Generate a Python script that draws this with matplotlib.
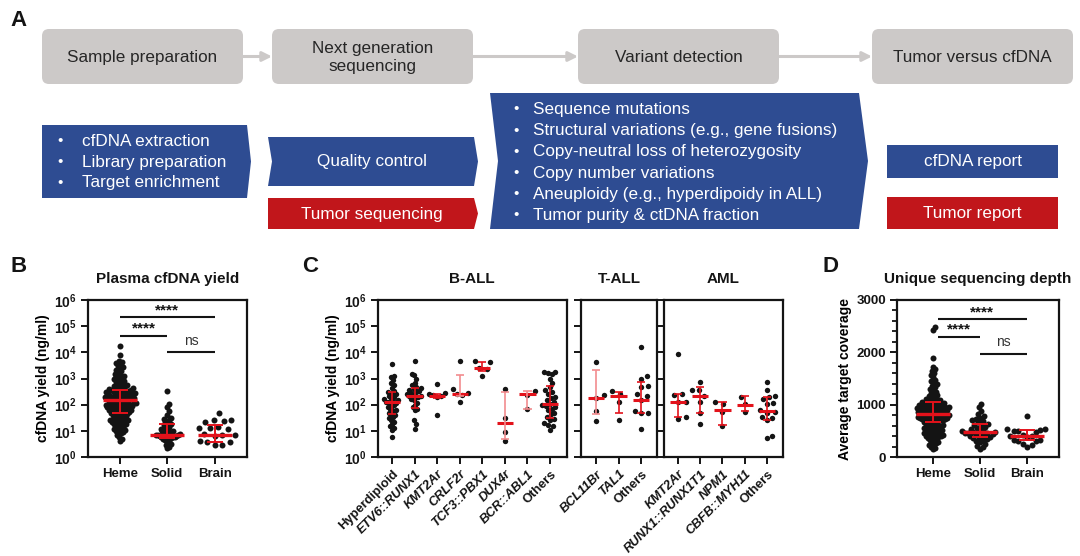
import numpy as np
import matplotlib
matplotlib.use("Agg")
import matplotlib.pyplot as plt
from matplotlib.patches import Polygon, FancyBboxPatch, Rectangle
from matplotlib.ticker import NullLocator, MultipleLocator

plt.rcParams['font.family'] = ['Liberation Sans', 'DejaVu Sans']
plt.rcParams['font.weight'] = 'bold'
plt.rcParams['axes.labelweight'] = 'bold'
plt.rcParams['mathtext.fontset'] = 'custom'
plt.rcParams['mathtext.rm'] = 'Liberation Sans'
plt.rcParams['mathtext.bf'] = 'Liberation Sans:bold'
plt.rcParams['axes.linewidth'] = 1.6

# ---------------- data ----------------
groups_bd = ["Heme", "Solid", "Brain"]

# B: plasma cfDNA yield (ng/ml)
yield_heme = [17000, 8200,
              4800, 4300, 3900, 3600, 3100, 2700, 2400, 2100,
              1900, 1700, 1500, 1400, 1300, 1200, 1100, 1050,
              950, 900, 820, 760, 700, 650, 600, 560, 520, 500,
              480, 460, 440, 420, 400, 380, 360, 350, 340, 330, 320, 310, 300,
              290, 285, 280, 270, 260, 250, 245, 240, 230, 225, 220, 210, 205, 200,
              195, 190, 185, 180, 175, 170, 165, 160, 155, 150, 145, 140, 138, 135,
              130, 125, 120, 118, 115, 110, 105, 102, 100,
              98, 95, 92, 90, 88, 85, 82, 80, 78, 75, 72, 70, 68, 65, 62, 60, 58,
              56, 54, 52, 50,
              48, 46, 44, 42, 40, 38, 36, 34, 32, 30, 28, 27, 26, 25, 24, 23, 22, 21, 20,
              19, 18, 17, 16, 15, 14, 13, 12, 11, 10,
              9.5, 9, 8, 7, 6, 5, 4]
yield_solid = [340, 105, 85, 55, 40, 30, 28, 25, 22, 20, 18, 16, 14, 13, 12, 11, 10,
               9.5, 9, 8.5, 8, 7.8, 7.5, 7.2, 7, 6.8, 6.6, 6.4, 6.2, 6, 5.8, 5.6, 5.4,
               5, 4.6, 4.2, 3.8, 3.2, 2.8, 2.5, 2.2]
yield_brain = [48, 27, 25, 24, 22, 14, 13, 12.5, 12, 7.5, 7, 6.8, 6.5, 4, 3.8, 3.6, 3, 2.9]
yield_median = [145, 7.1, 7.0]
yield_low = [48, 5.2, 3.7]
yield_high = [350, 18, 16]

# D: average target coverage
depth_heme = [2480, 2420, 1900,
              1720, 1680, 1640, 1600, 1560, 1520,
              1480, 1450, 1420, 1390, 1360, 1330, 1300, 1280, 1250, 1220, 1200,
              1180, 1160, 1140, 1120, 1100, 1090, 1080, 1070, 1060, 1050, 1040, 1030,
              1025, 1020, 1010, 1000,
              995, 990, 980, 975, 970, 960, 955, 950, 940, 935, 930, 920, 915, 910,
              900, 895, 890, 880, 875, 870, 860, 855, 850, 840, 835, 830, 820, 815,
              810, 805, 800,
              790, 785, 780, 770, 765, 760, 750, 745, 740, 735, 730, 725, 720, 715,
              710, 700, 690, 680, 670, 660, 650, 640, 630, 620, 610, 600,
              590, 580, 570, 560, 550, 540, 530, 520, 510, 500, 490, 480, 470, 460,
              450, 440, 430, 420, 410, 400,
              390, 380, 360, 350, 340, 320, 300, 280, 260, 240, 220, 200, 170, 150]
depth_solid = [1020, 960, 870, 820, 780, 740, 720, 700, 680, 660, 640, 620, 600, 580,
               560, 540, 520, 500, 490, 480, 470, 460, 455, 450, 440, 430, 420, 410,
               400, 390, 380, 360, 340, 320, 300, 280, 250, 210, 190, 160]
depth_brain = [790, 540, 530, 510, 500, 490, 480, 420, 410, 400, 390, 330, 320, 310,
               300, 240, 230, 200]
depth_median = [820, 485, 405]
depth_low = [660, 383, 320]
depth_high = [1055, 628, 510]

# C: cfDNA yield by subtype
ball_labels = ["Hyperdiploid", "ETV6::RUNX1", "KMT2Ar", "CRLF2r", "TCF3::PBX1",
               "DUX4r", "BCR::ABL1", "Others"]
ball_values = [
    [3600, 1300, 1100, 900, 700, 550, 450, 320, 300, 280, 250, 220, 200, 180, 160,
     150, 140, 130, 125, 120, 110, 100, 90, 80, 70, 60, 55, 50, 45, 40, 35, 30, 26,
     22, 18, 15, 13, 11, 5.8],
    [4700, 1500, 1400, 1000, 700, 550, 480, 420, 380, 350, 320, 300, 280, 260, 240,
     220, 210, 200, 190, 170, 150, 120, 100, 80, 70, 60, 25, 18, 12],
    [620, 280, 250, 230, 210, 190, 41],
    [4500, 400, 280, 250, 230, 125],
    [4600, 4200, 2600, 2300, 1300],
    [400, 31, 8.7, 4],
    [320, 240, 68],
    [1800, 1700, 1600, 1500, 1000, 700, 480, 350, 300, 250, 200, 180, 150, 130, 110,
     100, 90, 80, 70, 60, 50, 45, 35, 28, 25, 20, 16, 15, 11],
]
ball_median = [125, 210, 215, 250, 2500, 20, 250, 107]
ball_low = [44, 72, 180, 215, 2000, 4.9, 68, 31]
ball_high = [300, 430, 255, 1420, 4200, 300, 320, 500]

tall_labels = ["BCL11Br", "TAL1", "Others"]
tall_values = [
    [4100, 225, 180, 59, 23],
    [320, 260, 130, 25],
    [16500, 1260, 990, 500, 480, 260, 220, 155, 59, 48, 46, 12],
]
tall_median = [180, 210, 155]
tall_low = [44, 50, 48]
tall_high = [2100, 300, 710]

aml_labels = ["KMT2Ar", "RUNX1::RUNX1T1", "NPM1", "CBFB::MYH11", "Others"]
aml_values = [
    [8500, 260, 230, 130, 125, 35, 28],
    [720, 370, 350, 220, 123, 48, 18],
    [130, 105, 52, 15],
    [195, 105, 52],
    [720, 350, 210, 190, 160, 120, 105, 60, 52, 48, 34, 30, 25, 6.6, 5.4],
]
aml_median = [130, 220, 65, 100, 55]
aml_low = [34, 48, 17, 59, 25]
aml_high = [250, 470, 123, 210, 190]

# ---------------- styling ----------------
RED = '#E3121B'
PINK = '#F28C8F'
BLUE = '#2E4C92'
DRED = '#C1161B'
GRAY = '#CCC9C8'
INK = '#141414'

W, H = 1080, 556
fig = plt.figure(figsize=(W / 100, H / 100), dpi=100)


def px_axes(x0, y0, x1, y1):
    return fig.add_axes([x0 / W, 1 - y1 / H, (x1 - x0) / W, (y1 - y0) / H])


ax0 = fig.add_axes([0, 0, 1, 1])
ax0.set_xlim(0, W)
ax0.set_ylim(H, 0)
ax0.axis('off')

# ---------------- panel A: workflow ----------------
gray_boxes = [(42, "Sample preparation"), (272, "Next generation\nsequencing"),
              (578, "Variant detection"), (872, "Tumor versus cfDNA")]
for x, label in gray_boxes:
    ax0.add_patch(FancyBboxPatch((x, 29), 201, 55, boxstyle="round,pad=0,rounding_size=7",
                                 fc=GRAY, ec='none'))
    ax0.text(x + 100.5, 57.5, label, ha='center', va='center', fontsize=12.3,
             weight='normal', color='#262626', linespacing=1.25)
for x0, x1 in [(243, 272), (473, 578), (779, 872)]:
    ax0.annotate("", xy=(x1, 56.5), xytext=(x0, 56.5),
                 arrowprops=dict(arrowstyle='-|>', color=GRAY, lw=2.2,
                                 mutation_scale=14, shrinkA=0, shrinkB=0))

ax0.add_patch(Polygon([(42, 125), (247, 125), (251, 161.5), (247, 198), (42, 198)],
                      fc=BLUE, ec='none'))
ax0.add_patch(Polygon([(268, 137), (474, 137), (478, 161.5), (474, 186), (268, 186),
                       (272, 161.5)], fc=BLUE, ec='none'))
ax0.add_patch(Polygon([(268, 198), (474, 198), (478, 213.5), (474, 229), (268, 229)],
                      fc=DRED, ec='none'))
ax0.add_patch(Polygon([(490, 93), (859, 93), (868, 161), (859, 229), (490, 229),
                       (498, 161)], fc=BLUE, ec='none'))
ax0.add_patch(Rectangle((887, 145), 171, 33, fc=BLUE, ec='none'))
ax0.add_patch(Rectangle((887, 197), 171, 32, fc=DRED, ec='none'))

step1 = ["cfDNA extraction", "Library preparation", "Target enrichment"]
for k, s in enumerate(step1):
    y = 141 + 21 * k
    ax0.text(60, y, "•", ha='center', va='center', fontsize=11, color='white', weight='normal')
    ax0.text(82, y, s, ha='left', va='center', fontsize=12.3, color='white', weight='normal')

step3 = ["Sequence mutations", "Structural variations (e.g., gene fusions)",
         "Copy-neutral loss of heterozygosity", "Copy number variations",
         "Aneuploidy (e.g., hyperdipoidy in ALL)", "Tumor purity & ctDNA fraction"]
for k, s in enumerate(step3):
    y = 109.5 + 21.2 * k
    ax0.text(516, y, "•", ha='center', va='center', fontsize=11, color='white', weight='normal')
    ax0.text(533, y, s, ha='left', va='center', fontsize=12.3, color='white', weight='normal')

for x, y, s in [(372, 161.5, "Quality control"), (372, 214, "Tumor sequencing"),
                (972.5, 161.5, "cfDNA report"), (972.5, 213.5, "Tumor report")]:
    ax0.text(x, y, s, ha='center', va='center', fontsize=12.3, color='white', weight='normal')

# panel letters and titles
for x, y, s in [(10, 21, "A"), (10, 267, "B"), (302, 267, "C"), (822, 267, "D")]:
    ax0.text(x, y, s, ha='left', va='center', fontsize=16, weight='bold', color=INK)
for x, s in [(167.5, "Plasma cfDNA yield"), (472, "B-ALL"), (619, "T-ALL"),
             (723.5, "AML"), (978, "Unique sequencing depth")]:
    ax0.text(x, 279, s, ha='center', va='center', fontsize=11, weight='bold', color=INK)


# ---------------- helpers ----------------
def swarm_x(ax, xc, vals, spacing, cap):
    pts = ax.transData.transform(np.column_stack([np.full(len(vals), xc), vals]))
    cx = pts[0, 0]
    ys = pts[:, 1]
    xs = np.zeros(len(vals))
    placed = []
    for i in np.argsort(ys):
        y = ys[i]
        near = [(px, py) for px, py in placed if abs(py - y) < spacing]
        cands = [0.0]
        for px, py in near:
            dx = np.sqrt(spacing ** 2 - (py - y) ** 2)
            cands += [px - cx + dx, px - cx - dx]
        cands.sort(key=abs)
        off = cands[-1]
        for c in cands:
            if all((cx + c - px) ** 2 + (y - py) ** 2 >= spacing ** 2 - 1e-6 for px, py in near):
                off = c
                break
        xs[i] = cx + off
        placed.append((cx + off, y))
    offs = xs - cx
    m = np.abs(offs).max()
    if m > cap:
        offs = offs * cap / m
    back = ax.transData.inverted().transform(np.column_stack([cx + offs, ys]))
    return back[:, 0]


def draw_groups(ax, values, med, lo, hi, dot, spacing, caps, med_hw, cap_hw, med_lw, bar_lw,
                pale=None):
    for i, vals in enumerate(values):
        xs = swarm_x(ax, i, vals, spacing[i], caps[i])
        ax.scatter(xs, vals, s=(dot * 0.72) ** 2, c=INK, lw=0, zorder=3, clip_on=False)
        wc = PINK if (pale and pale[i]) else RED
        ax.hlines(med[i], i - med_hw, i + med_hw, color=RED, lw=med_lw, zorder=4)
        ax.hlines([lo[i], hi[i]], i - cap_hw, i + cap_hw, color=wc, lw=bar_lw, zorder=4)
        ax.vlines(i, lo[i], hi[i], color=wc, lw=bar_lw, zorder=4)


def style(ax, xlim, labels, rot=0, italic=None):
    ax.set_xlim(*xlim)
    ax.set_xticks(range(len(labels)))
    if rot:
        ax.set_xticklabels(labels, rotation=rot, ha='right', rotation_mode='anchor',
                           fontsize=9.3)
    else:
        ax.set_xticklabels(labels, fontsize=9.5)
    if italic:
        for lab, it in zip(ax.get_xticklabels(), italic):
            lab.set_style('italic' if it else 'normal')
    ax.tick_params(axis='both', direction='out', length=5, width=1.4, colors=INK,
                   labelcolor=INK, pad=3)
    ax.tick_params(axis='y', which='minor', direction='out', length=3.5, width=1.2)
    for sp in ax.spines.values():
        sp.set_color(INK)


def log_axis(ax, labels=True):
    ax.set_yscale('log')
    ax.set_ylim(1, 1e6)
    ax.set_yticks([10.0 ** k for k in range(7)])
    ax.yaxis.set_minor_locator(NullLocator())
    if labels:
        ax.set_yticklabels([r'$\mathbf{10^{%d}}$' % k for k in range(7)], fontsize=10)
    else:
        ax.tick_params(labelleft=False)


def sig(ax, x0, x1, y, text, bold=True, dy=0):
    ax.plot([x0, x1], [y, y], color=INK, lw=1.5, solid_capstyle='butt')
    ax.annotate(text, xy=((x0 + x1) / 2, y), xytext=(0, dy), textcoords='offset points',
                ha='center', va='bottom', fontsize=11 if bold else 10,
                weight='bold' if bold else 'normal', color=INK if bold else '#333333')


# ---------------- panel B ----------------
axB = px_axes(88, 300, 247, 457)
log_axis(axB)
style(axB, (-0.67, 2.68), groups_bd)
draw_groups(axB, [yield_heme, yield_solid, yield_brain], yield_median, yield_low, yield_high,
            dot=6, spacing=[4.8, 5.8, 9], caps=[16, 13, 20], med_hw=0.36, cap_hw=0.17,
            med_lw=2.4, bar_lw=1.4)
axB.set_ylabel("cfDNA yield (ng/ml)", fontsize=10, labelpad=3)
sig(axB, 0, 2, 2.2e5, "****")
sig(axB, 0, 1, 4.3e4, "****")
sig(axB, 1, 2, 1.05e4, "ns", bold=False, dy=3)

# ---------------- panel C ----------------
axC1 = px_axes(378, 300, 567, 457)
log_axis(axC1)
style(axC1, (-0.62, 7.75), ball_labels, rot=45,
      italic=[False, True, True, True, True, True, True, False])
draw_groups(axC1, ball_values, ball_median, ball_low, ball_high,
            dot=5.4, spacing=[5.2, 5.2, 8, 8, 8, 8, 8, 5.2], caps=[8, 8, 8, 8, 8, 8, 8, 8],
            med_hw=0.36, cap_hw=0.18, med_lw=2.2, bar_lw=1.2,
            pale=[False, False, False, True, False, True, True, False])
axC1.set_ylabel("cfDNA yield (ng/ml)", fontsize=10, labelpad=3)

axC2 = px_axes(581, 300, 657, 457)
log_axis(axC2, labels=False)
style(axC2, (-0.67, 2.71), tall_labels, rot=45, italic=[True, True, False])
draw_groups(axC2, tall_values, tall_median, tall_low, tall_high,
            dot=5.4, spacing=[8, 8, 7], caps=[8, 8, 8], med_hw=0.36, cap_hw=0.18,
            med_lw=2.2, bar_lw=1.2, pale=[True, False, False])

axC3 = px_axes(664, 300, 783, 457)
log_axis(axC3, labels=False)
style(axC3, (-0.63, 4.72), aml_labels, rot=45, italic=[True, True, True, True, False])
draw_groups(axC3, aml_values, aml_median, aml_low, aml_high,
            dot=5.4, spacing=[8, 8, 8, 8, 7], caps=[8, 8, 8, 8, 8], med_hw=0.36, cap_hw=0.18,
            med_lw=2.2, bar_lw=1.2)

# ---------------- panel D ----------------
axD = px_axes(897, 300, 1059, 457)
axD.set_ylim(0, 3000)
axD.set_yticks([0, 1000, 2000, 3000])
axD.set_yticklabels(["0", "1000", "2000", "3000"], fontsize=9.5)
axD.yaxis.set_minor_locator(MultipleLocator(200))
style(axD, (-0.77, 2.68), groups_bd)
draw_groups(axD, [depth_heme, depth_solid, depth_brain], depth_median, depth_low, depth_high,
            dot=6, spacing=[4.8, 6.2, 9], caps=[16, 18, 20], med_hw=0.36, cap_hw=0.17,
            med_lw=2.4, bar_lw=1.4)
axD.set_ylabel("Average target coverage", fontsize=10, labelpad=3)
sig(axD, 0.1, 2, 2637, "****")
sig(axD, 0.1, 1, 2300, "****")
sig(axD, 1, 2, 1975, "ns", bold=False, dy=3)

fig.savefig("out.png", dpi=100)
